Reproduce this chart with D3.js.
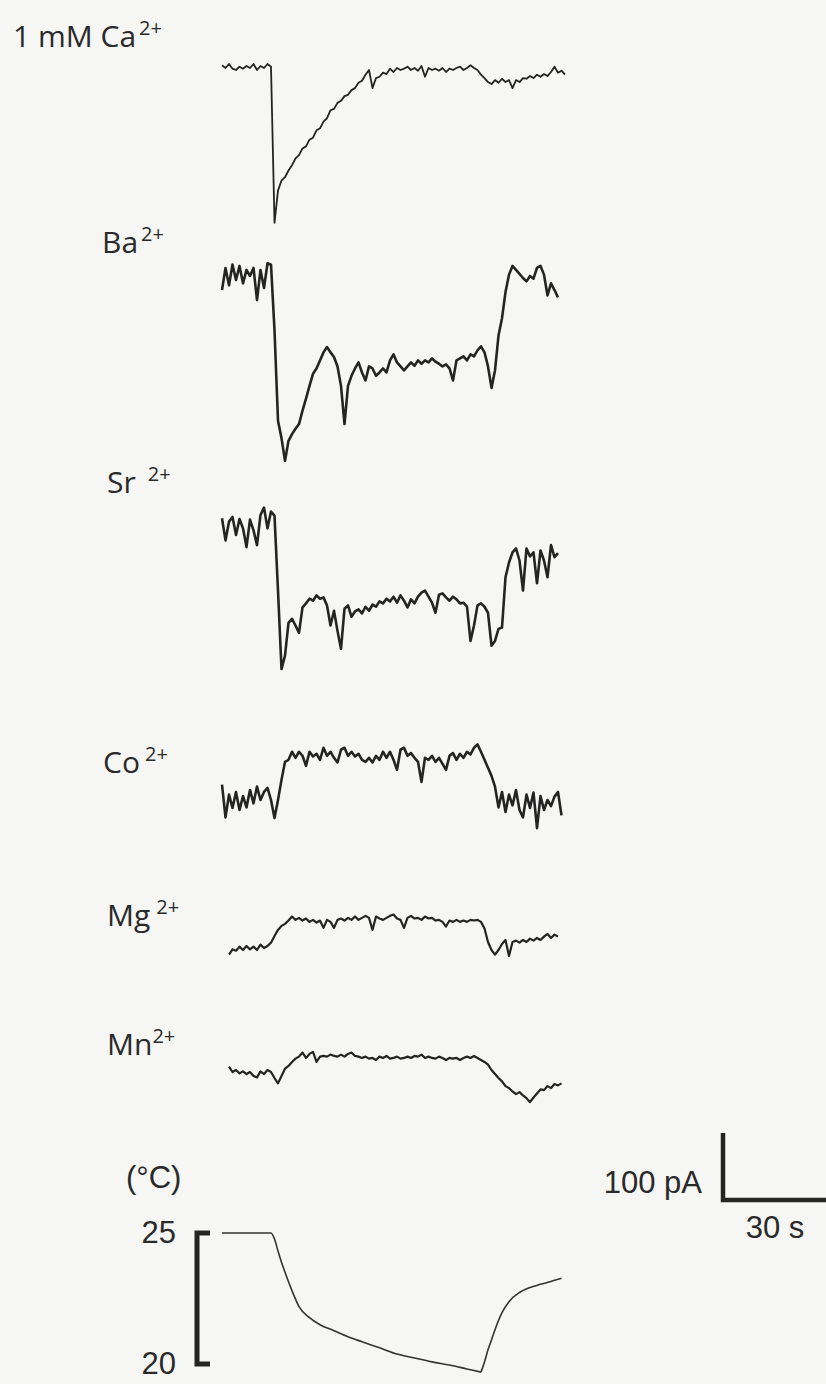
<!DOCTYPE html>
<html>
<head>
<meta charset="utf-8">
<script src="https://cdn.jsdelivr.net/npm/d3@7"></script>
<style>
  body { margin: 0; background: #f6f6f4; }
  svg { display: block; }
  .ion { font-family: "Open Sans", "Noto Sans", sans-serif; font-size: 30px; fill: #2a2a2a; }
  .ion .sup { font-size: 20px; }
  .num { font-family: "Liberation Sans", Arial, sans-serif; font-size: 31px; fill: #2a2a2a; }
</style>
</head>
<body>
<div id="chart"></div>
<script>
// ions tested, 1 sample per second
const ions = ["1 mM Ca", "Ba", "Sr", "Co", "Mg", "Mn"];
const charge = "2+";
const startTimes = [0, 0, 0, 0, 2, 2]; // s

// membrane current (pA, 0 = resting level)
const caCurrent = [1,-3,3,-4,-6,-1,-4,0,-3,3,-6,0,-3,3,-1,
  -234,-186,-171,-166,-156,-148,-138,-133,-123,-120,-110,-107,-96,-93,-83,-78,-66,-64,-55,-52,-45,-43,-36,-33,-25,-22,-13,-6,
  -33,-18,-16,-10,-12,-4,-9,-3,-6,-4,-1,-6,-3,-7,0,-16,-3,-6,-4,-7,-3,-9,-4,-6,-3,-1,-6,-3,1,-3,
  -6,-13,-18,-24,-27,-21,-25,-19,-24,-21,-33,-21,-24,-18,-19,-15,-18,-13,-16,-12,-15,-9,-1,-10,-7,-13];
const baCurrent = [-15,18,-8,23,0,21,-5,15,6,18,-30,15,-12,25,23,
  -75,-210,-236,-270,-240,-230,-222,-215,-195,-177,-158,-140,-132,-120,-108,-100,
  -108,-115,-129,-158,-215,-158,-143,-132,-123,-138,-150,-129,-132,-143,-138,-132,-138,-120,-111,-123,
  -129,-135,-129,-123,-128,-120,-125,-120,-123,-117,-122,-125,-129,-126,-132,-150,-120,-117,-114,-120,
  -111,-114,-105,-99,-108,-129,-161,-135,-83,-57,-18,8,21,15,9,3,-2,6,2,18,21,8,-23,-5,-15,-26];
const srCurrent = [10,-23,5,12,-15,9,-5,-33,8,-8,-30,15,26,-5,20,14,
  -98,-215,-195,-146,-140,-150,-161,-123,-117,-110,-113,-105,-110,-108,-120,-150,-128,-158,-185,-125,
  -120,-137,-129,-126,-132,-122,-128,-119,-122,-114,-117,-110,-114,-107,-116,-105,-113,-123,-111,-117,
  -107,-101,-98,-107,-116,-131,-104,-102,-108,-113,-107,-111,-117,-116,-122,-173,-150,-120,-117,-122,
  -131,-180,-173,-155,-153,-78,-56,-41,-35,-53,-98,-35,-47,-41,-87,-38,-53,-78,-30,-48,-42];
const coCurrent = [23,-26,8,-12,12,-15,6,-11,15,-5,20,0,12,18,0,-27,0,
  30,57,60,72,63,72,66,51,72,65,69,60,78,66,72,63,56,75,78,66,
  72,65,69,60,57,63,56,66,60,72,63,72,60,45,75,78,66,70,63,57,
  27,63,60,66,57,63,54,45,66,70,60,69,63,72,68,78,83,72,60,48,
  36,20,-11,12,-18,8,-8,15,-15,-26,8,-12,11,-42,6,-15,0,-9,5,12,-23];
const mgCurrent = [-10,-2,-4,2,-3,3,-2,2,-3,5,0,3,8,
  18,27,33,36,41,47,42,45,41,44,39,42,38,41,30,42,39,30,42,44,
  41,45,42,47,42,45,48,45,27,47,44,42,45,48,50,44,42,30,45,48,
  44,45,42,47,44,45,41,42,39,32,41,39,42,39,41,39,42,41,42,39,
  29,9,-3,-10,-3,6,12,-12,9,11,8,12,9,14,11,15,12,17,21,15,20,17];
const mnCurrent = [5,-3,0,-5,-2,-6,-3,-9,-11,-2,-6,0,-3,
  -12,-20,-9,2,6,12,17,20,26,18,24,27,12,20,21,20,23,21,20,23,
  20,24,26,21,20,18,20,17,18,15,20,18,21,17,18,20,17,18,20,18,
  21,20,23,18,20,18,17,20,18,15,18,17,18,15,18,20,18,21,18,15,
  12,8,0,-6,-12,-17,-24,-27,-32,-36,-33,-38,-42,-48,-41,-35,-29,-30,-24,-27,-21,-23,-20];
const currents = [caCurrent, baCurrent, srCurrent, coCurrent, mgCurrent, mnCurrent];

// bath temperature (°C)
const tempTimes = [0,14,15,16,17,18,20,22,25,28,32,36,40,45,50,55,60,65,70,74,75,76,77,78,80,82,85,88,91,94,97];
const tempValues = [25,25,24.77,24.31,23.88,23.5,22.8,22.19,21.77,21.5,21.27,21.04,20.85,20.62,20.38,20.23,20.08,19.96,19.81,19.69,20.08,20.54,20.92,21.31,21.96,22.38,22.73,22.92,23.04,23.15,23.27];
const tempTicks = [25, 20];

// scale bars
const barCurrent = 100; // pA
const barTime = 30;     // s

const width = 826, height = 1384;
const ink = "#242424";

const svg = d3.select("#chart").append("svg")
  .attr("width", width)
  .attr("height", height);

const x = d3.scaleLinear().domain([0, 98]).range([222, 565]);
const pxPerPA = 67 / 100;

// where each trace and its label sit
const restY = [66, 280, 525, 800, 948, 1070];
const labelPos = [[13, 47], [102, 253], [107, 493], [103, 773], [107, 926], [107, 1055]];
const supGap = [3, 3, 12, 5, 6, 0];
const lineW = [1.8, 2.6, 2.6, 2.6, 2.2, 2.2];

currents.forEach(function (vals, i) {
  var y = d3.scaleLinear().domain([0, -100]).range([restY[i], restY[i] + 100 * pxPerPA]);
  var line = d3.line()
    .x(function (d, j) { return x(startTimes[i] + j); })
    .y(function (d) { return y(d); });

  svg.append("path")
    .datum(vals)
    .attr("d", line)
    .attr("fill", "none")
    .attr("stroke", ink)
    .attr("stroke-width", lineW[i])
    .attr("stroke-linejoin", "round");

  var t = svg.append("text").attr("class", "ion")
    .attr("x", labelPos[i][0]).attr("y", labelPos[i][1]);
  t.append("tspan").text(ions[i]);
  t.append("tspan").attr("class", "sup")
    .attr("dx", supGap[i]).attr("dy", -12).text(charge);
});

// temperature trace
var yT = d3.scaleLinear().domain([20, 25]).range([1364, 1233]);
var tempData = tempTimes.map(function (t, i) { return [t, tempValues[i]]; });
var minIdx = d3.minIndex(tempValues);
var tLine = d3.line()
  .x(function (d) { return x(d[0]); })
  .y(function (d) { return yT(d[1]); })
  .curve(d3.curveMonotoneX);
[tempData.slice(0, minIdx + 1), tempData.slice(minIdx)].forEach(function (seg) {
  svg.append("path")
    .attr("d", tLine(seg))
    .attr("fill", "none")
    .attr("stroke", "#333")
    .attr("stroke-width", 1.6);
});

// temperature bracket
var bx = 197;
svg.append("path")
  .attr("d", "M" + (bx + 13) + "," + yT(25) + "H" + bx + "V" + yT(20) + "H" + (bx + 13))
  .attr("fill", "none")
  .attr("stroke", ink)
  .attr("stroke-width", 5);

svg.selectAll(".tick-t")
  .data(tempTicks)
  .enter().append("text")
  .attr("class", "num")
  .attr("x", 176)
  .attr("y", function (d) { return yT(d) + 10; })
  .attr("text-anchor", "end")
  .text(function (d) { return d; });

svg.append("text").attr("class", "num")
  .attr("x", 126).attr("y", 1188)
  .text("(°C)");

// current / time scale bar
var sbX = 723, sbY = 1200;
var barH = barCurrent * pxPerPA;
var barW = x(barTime) - x(0);
svg.append("path")
  .attr("d", "M" + sbX + "," + (sbY - barH) + "V" + sbY + "H" + (sbX + barW))
  .attr("fill", "none")
  .attr("stroke", ink)
  .attr("stroke-width", 4.5);

svg.append("text").attr("class", "num")
  .attr("x", 702).attr("y", 1193)
  .attr("text-anchor", "end")
  .text(barCurrent + " pA");

svg.append("text").attr("class", "num")
  .attr("x", 775).attr("y", 1238)
  .attr("text-anchor", "middle")
  .text(barTime + " s");
</script>
</body>
</html>
